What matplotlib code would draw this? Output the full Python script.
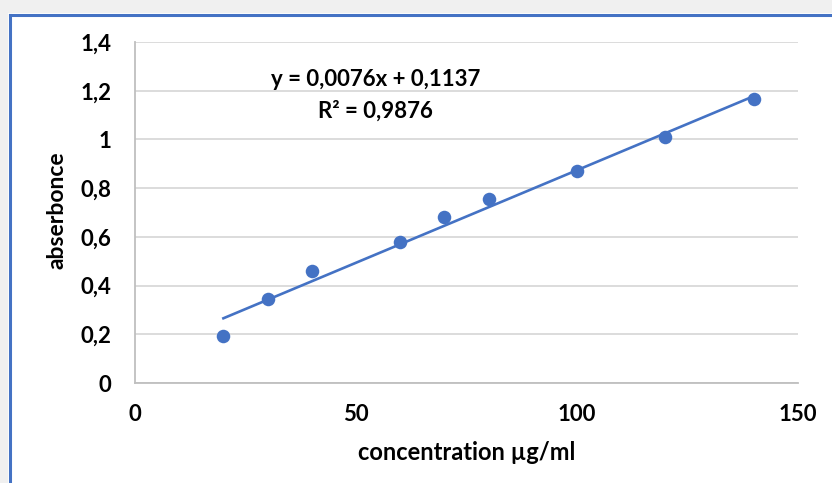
import matplotlib.pyplot as plt
from matplotlib.patches import Rectangle
from matplotlib.lines import Line2D
from matplotlib.ticker import FuncFormatter

# datos de la curva de calibracion
concentracion = [20, 30, 40, 60, 70, 80, 100, 120, 140]
absorbancia = [0.195, 0.345, 0.46, 0.58, 0.68, 0.755, 0.87, 1.01, 1.165]
pendiente = 0.0076
intercepto = 0.1137
r2 = 0.9876
x_ticks = [0, 50, 100, 150]
y_ticks = [0, 0.2, 0.4, 0.6, 0.8, 1.0, 1.2, 1.4]

azul = "#4472C4"
plt.rcParams['font.family'] = ['Lato', 'DejaVu Sans']

fig = plt.figure(figsize=(8.32, 4.83), dpi=100)
W, H = 832, 483
# sombra gris y marco azul (captura de pantalla)
fig.patches.append(Rectangle((0, 1 - 13 / H), 1, 13 / H, transform=fig.transFigure,
                             facecolor="#f0f0f0", edgecolor="none", zorder=0))
fig.patches.append(Rectangle((0, 0), 8 / W, 1, transform=fig.transFigure,
                             facecolor="#f0f0f0", edgecolor="none", zorder=0))
fig.lines.append(Line2D([9.5 / W, 1], [1 - 14.5 / H, 1 - 14.5 / H], transform=fig.transFigure,
                        color=azul, lw=2.2, zorder=1))
fig.lines.append(Line2D([9.5 / W, 9.5 / W], [0, 1 - 14.5 / H], transform=fig.transFigure,
                        color=azul, lw=2.2, zorder=1))

ax = fig.add_axes([135 / W, 1 - 383 / H, (798 - 135) / W, (383 - 42) / H])
ax.scatter(concentracion, absorbancia, s=95, color=azul, zorder=3, linewidths=0)
xs = [min(concentracion), max(concentracion)]
ax.plot(xs, [pendiente * x + intercepto for x in xs], color=azul, lw=1.9, zorder=2)

ax.set_xlim(0, 150)
ax.set_ylim(0, 1.4)
ax.set_xticks(x_ticks)
ax.set_yticks(y_ticks)
fmt = lambda v, p: ("%g" % round(v, 1)).replace(".", ",")
ax.yaxis.set_major_formatter(FuncFormatter(fmt))
ax.xaxis.set_major_formatter(FuncFormatter(fmt))
ax.grid(axis="y", color="#d9d9d9", lw=1.3)
ax.set_axisbelow(True)
for s in ["top", "right"]:
    ax.spines[s].set_visible(False)
ax.spines["left"].set_color("#bfbfbf")
ax.spines["bottom"].set_color("#bfbfbf")
ax.spines["left"].set_linewidth(1.3)
ax.spines["bottom"].set_linewidth(1.3)
ax.tick_params(length=0, labelsize=16, colors="#000000")
ax.tick_params(axis="x", pad=15)
ax.tick_params(axis="y", pad=17)
for lbl in ax.get_xticklabels() + ax.get_yticklabels():
    lbl.set_fontweight("bold")

ax.set_xlabel("concentration µg/ml", fontsize=17, fontweight="bold", va="center")
ax.xaxis.set_label_coords(0.5, -0.204)
ax.set_ylabel("abserbonce", fontsize=16.5, fontweight="bold", va="center")
ax.yaxis.set_label_coords(-0.117, 0.507)

ecuacion = "y = " + ("%.4f" % pendiente).replace(".", ",") + "x + " + ("%.4f" % intercepto).replace(".", ",")
ax.text(54.5, 1.244, ecuacion, ha="center", va="center", fontsize=16, fontweight="bold")
ax.text(54.5, 1.117, "R² = " + ("%.4f" % r2).replace(".", ","), ha="center", va="center",
        fontsize=16, fontweight="bold")

plt.savefig("out.png", dpi=100)
